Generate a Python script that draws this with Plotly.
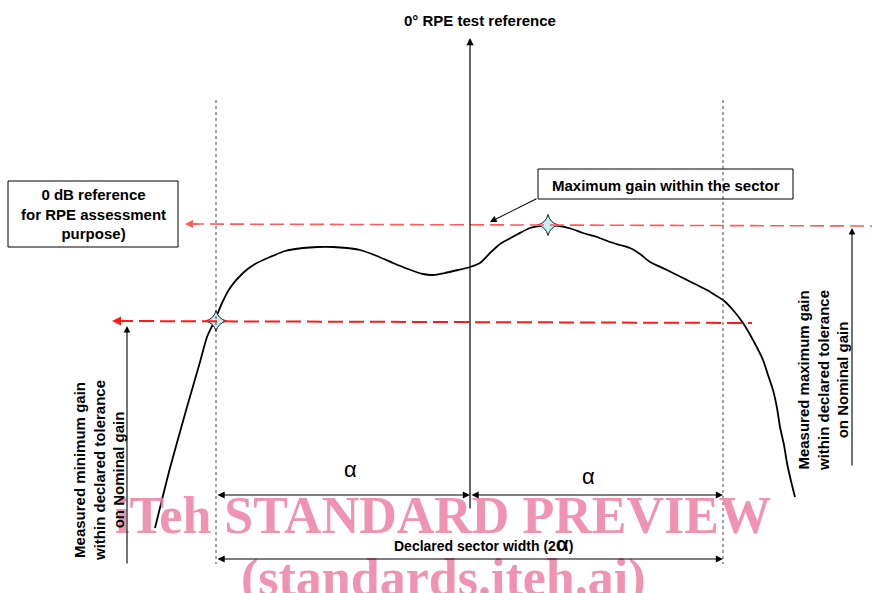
import plotly.graph_objects as go

# ---- data (diagram coordinates: x = horizontal position, y = vertical position, top-down) ----
curve_x = [155, 170, 187, 200, 207, 215, 222, 230, 243, 255, 270, 285, 303, 318, 333, 347, 360,
           377, 393, 408, 423, 433, 445, 458, 470, 480, 490, 500, 507, 518, 530, 540, 547,
           560, 572, 583, 597, 610, 620, 630, 640, 650, 667, 683, 695, 707, 715, 723,
           733, 743, 753, 763, 768, 773, 777, 780, 784, 787, 791, 795]
curve_y = [528, 468, 407, 362, 337, 320, 303, 288, 273, 264, 257, 251, 248, 247, 247, 248, 250,
           256, 263, 269, 274, 275, 273, 270, 267, 263, 253, 244, 240, 234, 228, 226, 225,
           226, 229, 233, 237, 242, 245, 248, 254, 262, 270, 278, 284, 290, 295, 300,
           310, 323, 340, 360, 375, 390, 408, 427, 445, 463, 481, 497]

sector_left, sector_right, boresight = 216, 723, 470
max_gain_level = 225
min_gain_level = 321
star_x = [216, 548]
star_y = [321, 225]

watermark = ["iTeh STANDARD PREVIEW", "(standards.iteh.ai)"]
watermark_x = [443, 443]
watermark_y = [515, 578]

FONT = "Liberation Sans"
BLACK = "#000000"

fig = go.Figure()

# gain curve
fig.add_trace(go.Scatter(x=curve_x, y=curve_y, mode="lines",
                         line=dict(color=BLACK, width=1.8, shape="spline", smoothing=0.6),
                         hoverinfo="skip", showlegend=False))

shapes = []
# dotted sector boundaries
for xv in (sector_left, sector_right):
    shapes.append(dict(type="line", x0=xv, x1=xv, y0=100, y1=564,
                       line=dict(color="#444444", width=1, dash="3px,3px")))
# red reference lines
shapes.append(dict(type="line", x0=190, x1=872, y0=max_gain_level - 1, y1=max_gain_level + 1,
                   line=dict(color="#ff5a5a", width=1.6, dash="14px,6px")))
shapes.append(dict(type="line", x0=118, x1=752, y0=min_gain_level, y1=min_gain_level + 2,
                   line=dict(color="#ff1a1a", width=2, dash="15px,6px")))
# boxes
shapes.append(dict(type="rect", x0=8, x1=178, y0=181, y1=247, line=dict(color=BLACK, width=1)))
shapes.append(dict(type="rect", x0=538, x1=793, y0=169, y1=199, line=dict(color=BLACK, width=1)))

annotations = []

# watermark first so the other annotations sit above it
for wt, wx, wy in zip(watermark, watermark_x, watermark_y):
    annotations.append(dict(x=wx, y=wy, xref="x", yref="y", text=f"<b>{wt}</b>",
                            showarrow=False, xanchor="center", yanchor="middle",
                            font=dict(family="Liberation Serif", size=52,
                                      color="rgba(236,128,163,0.85)")))

def arrow(x, y, ax, ay, color=BLACK, width=1.1, side="end", head=2, size=1.2):
    annotations.append(dict(x=x, y=y, ax=ax, ay=ay, xref="x", yref="y", axref="x", ayref="y",
                            showarrow=True, arrowhead=head, arrowsize=size, arrowwidth=width,
                            arrowcolor=color, arrowside=side, startarrowhead=head,
                            startarrowsize=size, text=""))

# boresight arrow
arrow(boresight, 38, boresight, 510, width=1.2)
# red arrow heads
arrow(185, max_gain_level - 1, 200, max_gain_level - 1, color="#ff5a5a", width=1.6, size=1.0)
arrow(112, min_gain_level, 128, min_gain_level, color="#ff1a1a", width=2, size=0.9)
# vertical gain arrows
arrow(127, 326, 127, 565, width=1.1)
arrow(852, 228, 852, 467, width=1.1)
# pointer to max gain line
arrow(490, 222, 538, 198, width=1.1)
# alpha arrows
arrow(boresight, 495, sector_left, 495, side="end+start", width=1.2)
arrow(sector_right, 495, boresight, 495, side="end+start", width=1.2)
arrow(sector_right, 559, sector_left, 559, side="end+start", width=1.2)

def text(x, y, t, size=15, bold=True, angle=0, color=BLACK, family=FONT):
    annotations.append(dict(x=x, y=y, xref="x", yref="y", text=(f"<b>{t}</b>" if bold else t),
                            showarrow=False, textangle=angle,
                            font=dict(family=family, size=size, color=color),
                            xanchor="center", yanchor="middle"))

text(480, 20, "0° RPE test reference")
text(93, 214, "0 dB reference<br>for RPE assessment<br>purpose)")
text(666, 185, "Maximum gain within the sector")
text(99, 471, "Measured minimum gain<br>within declared tolerance<br>on Nominal gain", angle=-90)
text(823, 381, "Measured maximum gain<br>within declared tolerance<br>on Nominal gain", angle=-90)
text(350, 469, "α", size=22, bold=False)
text(588, 476, "α", size=22, bold=False)
text(483, 543, "Declared sector width (2<span style='font-size:21px'>α</span>)", size=14)

# stars
fig.add_trace(go.Scatter(x=star_x, y=star_y, mode="markers",
                         marker=dict(symbol="star-diamond", size=15, color="#c4eef2",
                                     line=dict(color="#1a1a1a", width=1)),
                         hoverinfo="skip", showlegend=False))

fig.update_layout(width=872, height=593, margin=dict(l=0, r=0, t=0, b=0),
                  paper_bgcolor="white", plot_bgcolor="white",
                  shapes=shapes, annotations=annotations, showlegend=False)
fig.update_xaxes(range=[0, 872], visible=False, fixedrange=True)
fig.update_yaxes(range=[593, 0], visible=False, fixedrange=True)

fig.write_html("out.html", config={"displayModeBar": False},
               post_script="document.body.style.margin='0';document.body.style.overflow='hidden';")
